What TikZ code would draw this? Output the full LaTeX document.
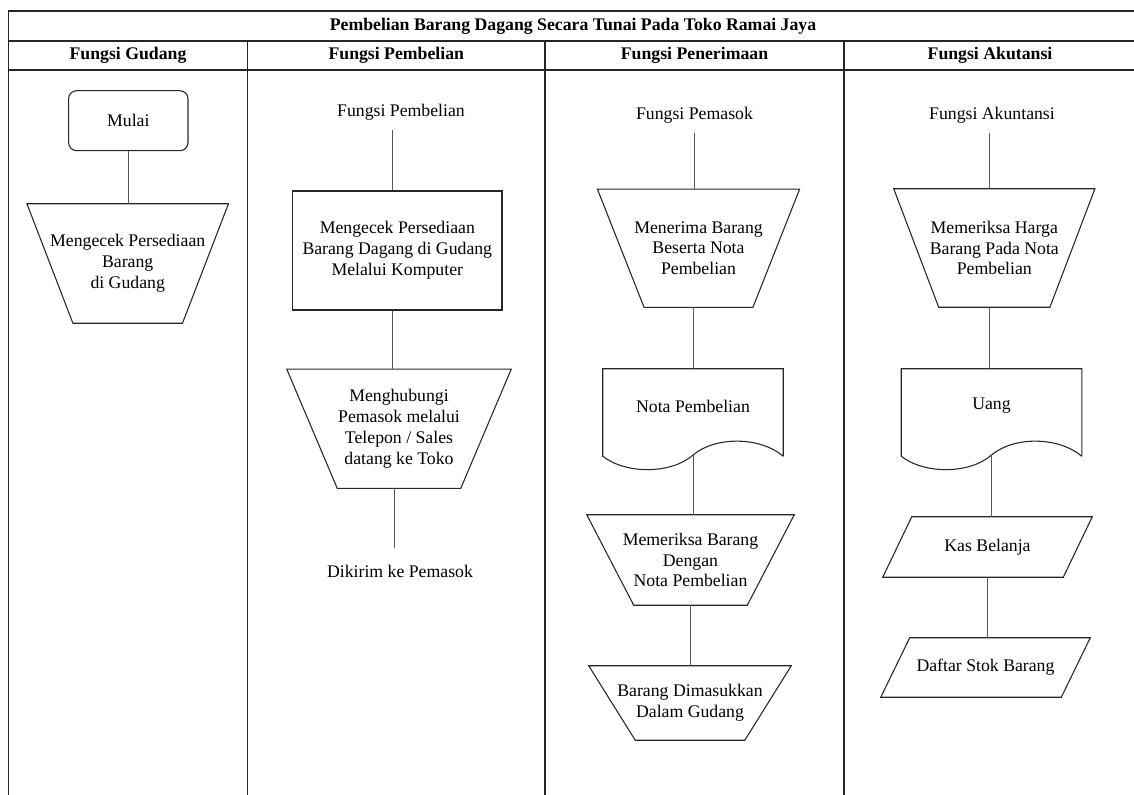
\documentclass[tikz,border=0pt]{standalone}
\usepackage{fontspec}
\setmainfont{Liberation Serif}
\usetikzlibrary{calc}
\newcommand\trapz[2]{\draw[shapeline] (#1.north west) -- (#1.north east) -- ($(#1.south east)+(-#2,0)$) -- ($(#1.south west)+(#2,0)$) -- cycle;}
\newcommand\parz[2]{\draw[shapeline] ($(#1.north west)+(#2,0)$) -- (#1.north east) -- ($(#1.south east)+(-#2,0)$) -- (#1.south west) -- cycle;}
\newcommand\docz[1]{\draw[shapeline] ($(#1.south east)+(0,13)$) -- (#1.north east) -- (#1.north west) -- ($(#1.south west)+(0,13)$) .. controls ($(#1.south west)+(23,31)$) and ($(#1.south west)+(68,31)$) .. ($(#1.south west)+(90,12)$) .. controls ($(#1.south west)+(112,-7)$) and ($(#1.south west)+(157,-7)$) .. ($(#1.south east)+(0,13)$);
\coordinate (#1w) at ($(#1.south)+(0,12)$);}
\tikzset{
  frame/.style={line width=1.1pt, draw=black!85},
  shapeline/.style={line width=0.8pt, draw=black!85},
  conn/.style={line width=0.7pt, draw=black!65},
  box/.style={inner sep=0pt, align=center},
  lbl/.style={inner sep=0pt, align=center, minimum height=27pt},
  hdr/.style={inner sep=0pt, font=\fontsize{13.3}{15.6}\selectfont\bfseries},
}
\begin{document}
\begin{tikzpicture}[x=0.75pt, y=-0.75pt, every node/.append style={font=\fontsize{13.3}{15.6}\selectfont}]
\useasboundingbox (0,0) rectangle (1134,795);
% frame
\draw[frame] (8.3,795) -- (8.3,11) -- (1134,11);
\draw[frame] (8.3,41) -- (1134,41);
\draw[frame] (8.3,70) -- (1134,70);
\draw[frame] (247.6,41) -- (247.6,795);
\draw[frame] (545,41) -- (545,795);
\draw[frame] (844,41) -- (844,795);
% title and headers
\node[hdr] (title) at (573,26) {Pembelian Barang Dagang Secara Tunai Pada Toko Ramai Jaya};
\node[hdr] (h1) at (128,55.5) {Fungsi Gudang};
\node[hdr] (h2) at (396.3,55.5) {Fungsi Pembelian};
\node[hdr] (h3) at (694.5,55.5) {Fungsi Penerimaan};
\node[hdr] (h4) at (990,55.5) {Fungsi Akutansi};
% lane 1
\node[box, shapeline, rounded corners=6pt, minimum width=89.5pt, minimum height=45pt] (mulai) at (128.3,120.7) {Mulai};
\node[box, minimum width=150.75pt, minimum height=89.25pt] (t1) at (127.7,263.5) {Mengecek Persediaan\\Barang\\di Gudang};
\trapz{t1}{46}
\draw[conn] (mulai.south) -- (mulai.south |- t1.north);
% lane 2
\node[lbl] (f1) at (401,112) {Fungsi Pembelian};
\node[box, shapeline, minimum width=157pt, minimum height=89.25pt] (r1) at (397.3,250.5) {Mengecek Persediaan\\Barang Dagang di Gudang\\Melalui Komputer};
\node[box, minimum width=168pt, minimum height=89pt] (t2) at (399,428.7) {Menghubungi\\Pemasok melalui\\Telepon / Sales\\datang ke Toko};
\trapz{t2}{50.5}
\node[lbl, minimum height=34.5pt] (dk) at (400,571) {Dikirim ke Pemasok};
\draw[conn] ([xshift=-3.75pt]r1.north) -- ([xshift=-3.75pt]r1.north |- f1.south);
\draw[conn] ([xshift=-3.75pt]r1.south) -- ([xshift=-3.75pt]r1.south |- t2.north);
\draw[conn] ([xshift=-3.75pt]t2.south) -- ([xshift=-3.75pt]t2.south |- dk.north);
% lane 3
\node[lbl] (f2) at (694.5,115) {Fungsi Pemasok};
\node[box, minimum width=151.3pt, minimum height=88.3pt] (t3) at (698.5,248.2) {Menerima Barang\\Beserta Nota\\Pembelian};
\trapz{t3}{46.7}
\node[box, minimum width=135pt, minimum height=55.5pt] (d1) at (693,406) {Nota Pembelian};
\docz{d1}
\node[box, minimum width=155.25pt, minimum height=67.5pt] (t4) at (690.5,560) {Memeriksa Barang\\Dengan\\Nota Pembelian};
\trapz{t4}{47}
\node[box, minimum width=151.5pt, minimum height=55.5pt] (t5) at (690,703) {Barang Dimasukkan\\Dalam Gudang};
\trapz{t5}{46.5}
\draw[conn] (f2.south) -- (f2.south |- t3.north);
\draw[conn] (t3.south -| d1.north) -- (d1.north);
\draw[conn] (d1w) -- (d1w |- t4.north);
\draw[conn] (t4.south -| t5.north) -- (t5.north);
% lane 4
\node[lbl] (f3) at (992,115) {Fungsi Akuntansi};
\node[box, minimum width=150.5pt, minimum height=88.5pt] (t6) at (994.3,248) {Memeriksa Harga\\Barang Pada Nota\\Pembelian};
\trapz{t6}{45}
\node[box, minimum width=135pt, minimum height=55.5pt] (d2) at (991.5,406) {Uang};
\docz{d2}
\node[box, minimum width=156.75pt, minimum height=45pt] (p1) at (987.5,547) {Kas Belanja};
\parz{p1}{29}
\node[box, minimum width=156.75pt, minimum height=44.25pt] (p2) at (985.5,667.5) {Daftar Stok Barang};
\parz{p2}{29}
\draw[conn] ([xshift=-2.25pt]f3.south) -- ([xshift=-2.25pt]f3.south |- t6.north);
\draw[conn] ([xshift=-2.25pt]t6.south -| f3.south) -- ([xshift=-2.25pt]d2.north -| f3.south);
\draw[conn] (d2w) -- (d2w |- p1.north);
\draw[conn] (p1.south) -- (p1.south |- p2.north);
\end{tikzpicture}
\end{document}
